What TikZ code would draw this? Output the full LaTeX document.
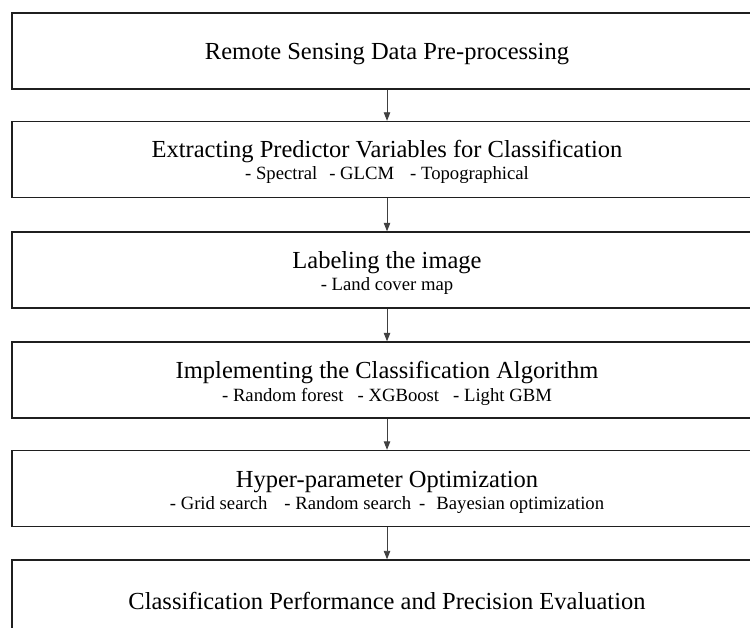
\documentclass[tikz,border=0pt]{standalone}
\usepackage{fontspec}
\setmainfont{Liberation Serif}
\usetikzlibrary{arrows.meta}
\begin{document}
\begin{tikzpicture}[x=1pt,y=1pt,
  box/.style={draw=black!88, line width=1.4pt, minimum width=750pt, minimum height=76pt, inner sep=0pt},
  ttl/.style={font=\fontsize{24.5}{28}\selectfont, anchor=base, inner sep=0pt},
  sub/.style={font=\fontsize{18.7}{22}\selectfont, anchor=base, inner sep=0pt},
  link/.style={draw=black!75, line width=0.9pt, -{Triangle[length=8.5pt,width=6.5pt]}}]
\useasboundingbox (0,0) rectangle (750,-628);
\clip (0,0) rectangle (750,-628);
\fill[white] (0,0) rectangle (750,-628);
% boxes
\node[box] (b1) at (387,-51) {};
\node[box] (b2) at (387,-159.5) {};
\node[box] (b3) at (387,-270) {};
\node[box] (b4) at (387,-380) {};
\node[box] (b5) at (387,-488.5) {};
\node[box] (b6) at (387,-598) {};
% texts
\node[ttl] (t1) at (387,-60) {Remote Sensing Data Pre-processing};
\node[ttl] (t2) at (387,-158) {Extracting Predictor Variables for Classification};
\node[sub] (s2) at (387,-180) {-\ Spectral\hspace{12pt}-\ GLCM\hspace{16pt}-\ Topographical};
\node[ttl] (t3) at (387,-269) {Labeling the image};
\node[sub] (s3) at (387,-291) {-\ Land cover map};
\node[ttl] (t4) at (387,-379) {Implementing the Classification Algorithm};
\node[sub] (s4) at (387,-401) {-\ Random forest\hspace{14pt}-\ XGBoost\hspace{14pt}-\ Light GBM};
\node[ttl] (t5) at (387,-487) {Hyper-parameter Optimization};
\node[sub] (s5) at (387,-509) {-\ Grid search\hspace{17pt}-\ Random search\hspace{8pt}-\hspace{11pt}Bayesian optimization};
\node[ttl] (t6) at (387,-609) {Classification Performance and Precision Evaluation};
% connectors
\draw[link] (b1.south) -- (b2.north);
\draw[link] (b2.south) -- (b3.north);
\draw[link] (b3.south) -- (b4.north);
\draw[link] (b4.south) -- (b5.north);
\draw[link] (b5.south) -- (b6.north);
\end{tikzpicture}
\end{document}
